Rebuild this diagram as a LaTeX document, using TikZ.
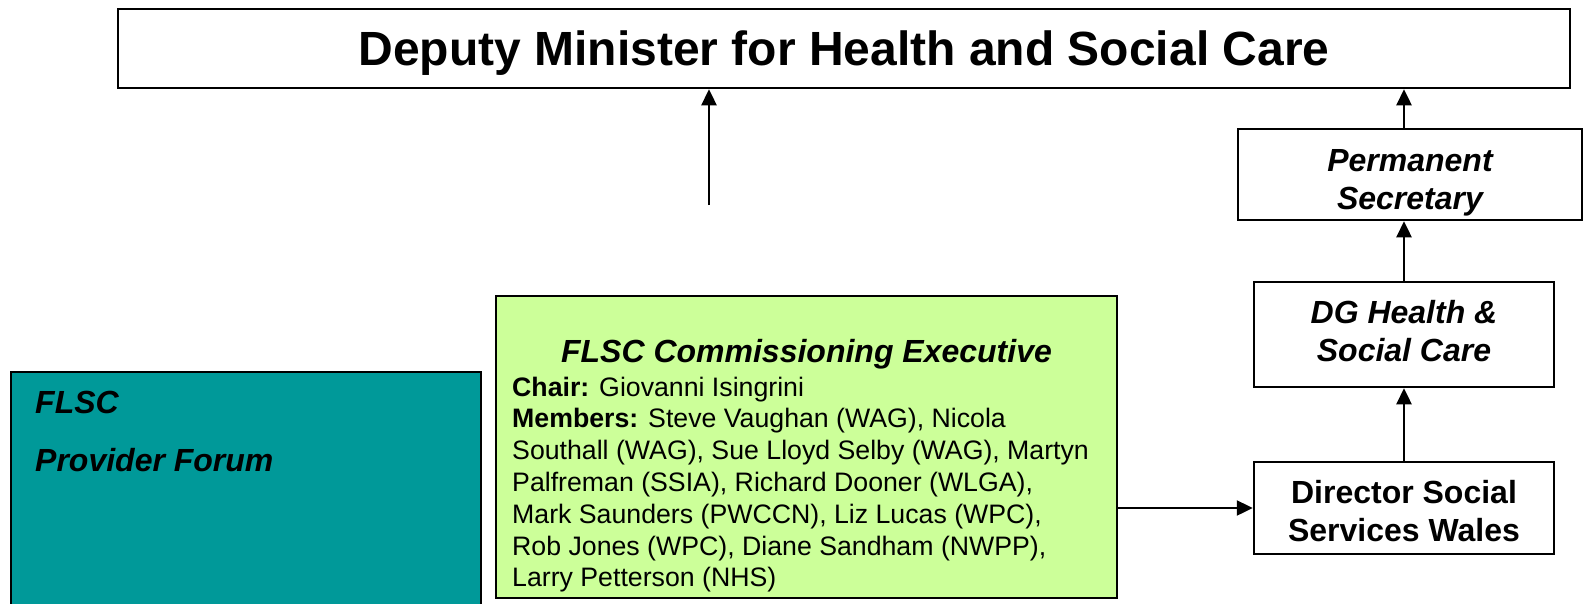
\documentclass[tikz,border=0pt]{standalone}
\usepackage{fontspec}
\setmainfont{Liberation Sans}
\usetikzlibrary{arrows.meta}
\definecolor{forumteal}{RGB}{0,153,153}
\definecolor{execgreen}{RGB}{204,255,153}

\begin{document}
\begin{tikzpicture}[x=1pt,y=-1pt]
	\tikzstyle{every node}=[inner sep=0pt]
	\tikzstyle{box}=[draw,line width=2.5pt,fill=white,align=center,text depth=0pt,
	font=\fontsize{32}{38}\selectfont\bfseries]
	\tikzstyle{arrow}=[line width=2.4pt,-{Triangle[length=16pt,width=15pt]}]
	\useasboundingbox (0,0) rectangle (1596,603);
	\clip (0,0) rectangle (1596,603);
	% top of the chain
	\node[box,minimum width=1452pt,minimum height=79pt,text height=33.4pt,
	font=\fontsize{48}{56}\selectfont\bfseries] (minister) at (844,48.5)
	{Deputy Minister for Health and Social Care};
	\node[box,minimum width=344pt,minimum height=91pt,text height=70pt] (ps) at (1410,174.5)
	{\itshape Permanent\\\itshape Secretary};
	\node[box,minimum width=300pt,minimum height=105pt,text height=54pt] (dg) at (1404,334.5)
	{\itshape DG Health \&\\\itshape Social Care};
	\node[box,minimum width=300pt,minimum height=92pt,text height=67pt] (dir) at (1404,508)
	{Director Social\\Services Wales};
	% forum and executive
	\node[box,fill=forumteal,minimum width=470pt,minimum height=248pt] (forum) at (246,496) {};
	\node[anchor=north west,align=left,font=\fontsize{32}{58}\selectfont\bfseries\itshape]
	(forumtext) at (35,391) {FLSC\\Provider Forum};
	\node[box,fill=execgreen,minimum width=621pt,minimum height=302pt] (exec) at (806.5,447) {};
	\node[font=\fontsize{32}{38}\selectfont\bfseries\itshape] (exectitle) at (806.5,354)
	{FLSC Commissioning Executive};
	\node[anchor=north west,align=left,font=\fontsize{26.7}{31.8}\selectfont] (execbody) at (512,376.5)
	{\textbf{Chair:} Giovanni Isingrini\\
		\textbf{Members:} Steve Vaughan (WAG), Nicola\\
		Southall (WAG), Sue Lloyd Selby (WAG), Martyn\\
		Palfreman (SSIA), Richard Dooner (WLGA),\\
		Mark Saunders (PWCCN), Liz Lucas (WPC),\\
		Rob Jones (WPC), Diane Sandham (NWPP),\\
		Larry Petterson (NHS)};
	% connectors
	\coordinate (tail) at (709,205);
	\draw[arrow] (tail) -- (tail |- minister.south);
	\draw[arrow] (dir.north) -- (dg.south);
	\draw[arrow] (dg.north) -- (dg.north |- ps.south);
	\draw[arrow] (dg.north |- ps.north) -- (dg.north |- minister.south);
	\draw[arrow] (exec.east |- dir.west) -- (dir.west);
\end{tikzpicture}
\end{document}
